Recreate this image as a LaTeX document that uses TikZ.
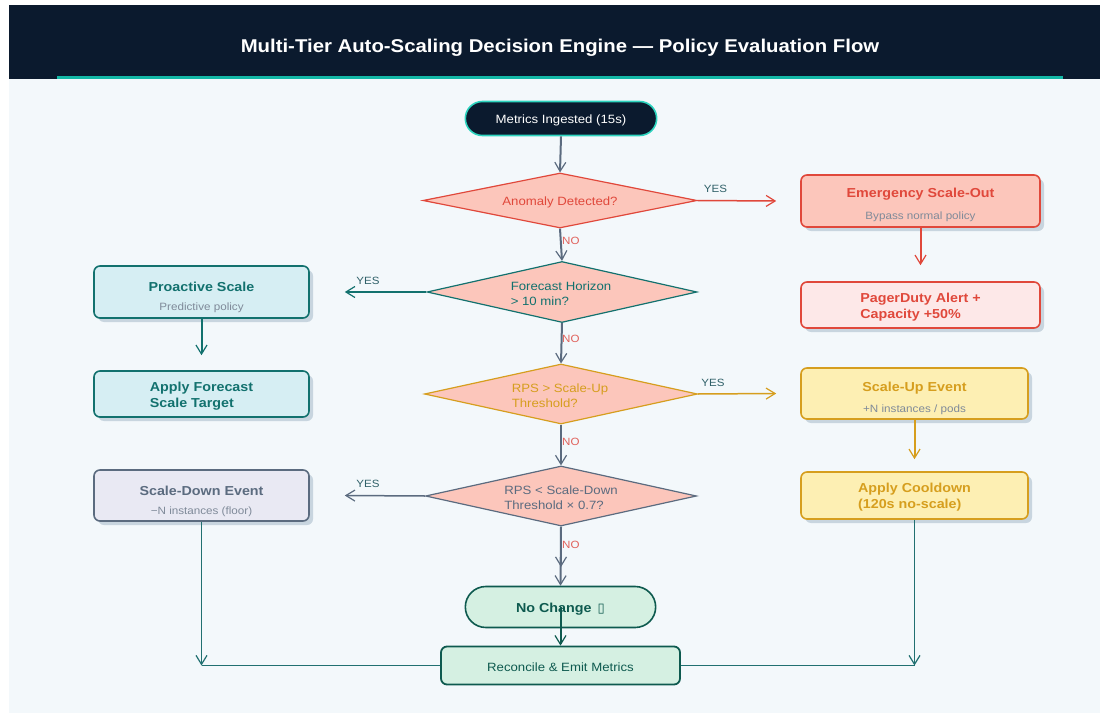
\documentclass[tikz,border=0pt]{standalone}
\usepackage{fontspec}
\setmainfont{Liberation Sans}[FakeStretch=1.1]
\newfontfamily\symfont{DejaVu Sans}
\usetikzlibrary{shapes.geometric,shapes.misc,arrows.meta,shadows}
\definecolor{navy}{HTML}{0B1A2E}
\definecolor{hdrteal}{HTML}{14B8A6}
\definecolor{startteal}{HTML}{2DD4BF}
\definecolor{bgc}{HTML}{F3F8FB}
\definecolor{slate}{HTML}{5B6B7F}
\definecolor{redc}{HTML}{E0483B}
\definecolor{redfill}{HTML}{FCC6BB}
\definecolor{pinkfill}{HTML}{FDE8E8}
\definecolor{tealc}{HTML}{12716E}
\definecolor{cyanfill}{HTML}{D6EEF3}
\definecolor{amber}{HTML}{D69E1E}
\definecolor{yelfill}{HTML}{FDEFB3}
\definecolor{lavfill}{HTML}{E9E9F3}
\definecolor{mintfill}{HTML}{D5F0E2}
\definecolor{darkgreen}{HTML}{0E5A4F}
\definecolor{subgray}{HTML}{7F8A99}
\definecolor{shadowc}{HTML}{C8D5DF}
\definecolor{yescol}{HTML}{2F6068}
\definecolor{nocol}{HTML}{E0605A}
\tikzset{
  box/.style={rounded corners=6pt, line width=1.6pt, draw,
    drop shadow={shadow xshift=4pt, shadow yshift=-4pt, fill=shadowc, opacity=1}},
  dec/.style={diamond, line width=1.2pt, draw, fill=redfill, inner sep=0pt},
  dectext/.style={font=\fontsize{12}{15}\selectfont, align=left, inner sep=0pt},
  ttl/.style={font=\fontsize{13}{16}\selectfont\bfseries, inner sep=0pt, align=left},
  sub/.style={font=\fontsize{10.6}{12}\selectfont, text=subgray, inner sep=0pt},
  arr/.style={-{Straight Barb[length=9pt,width=11pt,line width=1.2pt]}},
  lbl/.style={font=\fontsize{10.5}{12}\selectfont, inner sep=0pt},
}
\begin{document}
\begin{tikzpicture}[x=1pt,y=-1pt]
\useasboundingbox (0,0) rectangle (1100,714);
\fill[white] (0,0) rectangle (1100,714);
\fill[bgc] (9,79) rectangle (1100,713);
\fill[navy] (9,5) rectangle (1100,79);
\fill[hdrteal] (57,76) rectangle (1063,79);
\node[text=white, font=\fontsize{18.5}{22}\selectfont\bfseries] (title) at (560,48) {Multi-Tier Auto-Scaling Decision Engine — Policy Evaluation Flow};

% start
\node[rounded rectangle, draw=startteal, line width=1.6pt, fill=navy, text=white,
  minimum width=198pt, minimum height=34pt, font=\fontsize{12}{14}\selectfont] (start) at (561,118.5) {};
\node[text=white, font=\fontsize{12}{14}\selectfont, inner sep=0pt] (startt) at (561,120) {Metrics Ingested (15s)};

% diamonds
\node[dec, draw=redc, minimum width=274pt, minimum height=55pt] (d1) at (560,200.5) {};
\node[dectext, text=redc] (d1t) at (560,202.5) {Anomaly Detected?};
\node[dec, draw=tealc, minimum width=270pt, minimum height=61pt] (d2) at (562,292) {};
\node[dectext, text=tealc] (d2t) at (561,294) {Forecast Horizon\\> 10 min?};
\node[dec, draw=amber, minimum width=273pt, minimum height=60pt] (d3) at (561,394) {};
\node[dectext, text=amber] (d3t) at (560,396) {RPS > Scale-Up\\Threshold?};
\node[dec, draw=slate, minimum width=271pt, minimum height=60pt] (d4) at (561,496) {};
\node[dectext, text=slate] (d4t) at (561,498) {RPS < Scale-Down\\Threshold × 0.7?};

% right boxes
\node[box, draw=redc, fill=redfill, minimum width=239pt, minimum height=52pt] (emg) at (920.5,201) {};
\node[ttl, text=redc] (emgt) at (920.5,194.5) {Emergency Scale-Out};
\node[sub] (emgs) at (920.5,217) {Bypass normal policy};
\node[box, draw=redc, fill=pinkfill, minimum width=239pt, minimum height=46pt] (pd) at (920.5,305) {};
\node[ttl, text=redc] (pdt) at (920.5,307) {PagerDuty Alert +\\Capacity +50\%};

\node[box, draw=amber, fill=yelfill, minimum width=227pt, minimum height=51pt] (su) at (914.5,393.5) {};
\node[ttl, text=amber] (sut) at (914.5,388) {Scale-Up Event};
\node[sub] (sus) at (914.5,410) {+N instances / pods};
\node[box, draw=amber, fill=yelfill, minimum width=227pt, minimum height=47pt] (cd) at (914.5,495.5) {};
\node[ttl, text=amber] (cdt) at (914.5,497.5) {Apply Cooldown\\(120s no-scale)};

% left boxes
\node[box, draw=tealc, fill=cyanfill, minimum width=215pt, minimum height=52pt] (pro) at (201.5,292) {};
\node[ttl, text=tealc] (prot) at (201.5,287) {Proactive Scale};
\node[sub] (pros) at (201.5,308) {Predictive policy};
\node[box, draw=tealc, fill=cyanfill, minimum width=215pt, minimum height=46pt] (af) at (201.5,394) {};
\node[ttl, text=tealc] (aft) at (201.5,396) {Apply Forecast\\Scale Target};

\node[box, draw=slate, fill=lavfill, minimum width=215pt, minimum height=51pt] (sd) at (201.5,495.5) {};
\node[ttl, text=slate] (sdt) at (201.5,491) {Scale-Down Event};
\node[sub] (sds) at (201.5,512) {−N instances (floor)};

% bottom
\node[rounded rectangle, draw=darkgreen, fill=mintfill, line width=1.6pt,
  minimum width=197pt, minimum height=41pt] (nc) at (560.5,607) {};
\node[text=darkgreen, font=\fontsize{13}{15}\selectfont\bfseries, inner sep=0pt] (nct) at (560.5,609) {No Change \,{\symfont\mdseries ▯}};
\node[rounded corners=6pt, draw=darkgreen, fill=mintfill, line width=1.8pt, text=darkgreen,
  minimum width=239pt, minimum height=38pt, font=\fontsize{12}{14}\selectfont] (rec) at (560.5,665.5) {};
\node[text=darkgreen, font=\fontsize{12}{14}\selectfont, inner sep=0pt] (rect) at (560.5,667) {Reconcile \& Emit Metrics};

% main spine
\draw[arr, slate, line width=2pt] (start.south) -- (d1.north);
\draw[arr, slate, line width=2pt] (d1.south) -- (d2.north);
\draw[arr, slate, line width=2pt] (d2.south) -- (d3.north);
\draw[arr, slate, line width=2pt] (d3.south) -- (d4.north);
\coordinate (mid) at (561,567);
\draw[arr, slate, line width=2pt] (d4.south) -- (mid);
\draw[arr, slate, line width=2pt] (d4.south) -- (nc.north);
\node[lbl, text=nocol, anchor=west] (no1) at (562,241) {NO};
\node[lbl, text=nocol, anchor=west] (no2) at (562,339) {NO};
\node[lbl, text=nocol, anchor=west] (no3) at (562,442) {NO};
\node[lbl, text=nocol, anchor=west] (no4) at (562,544.5) {NO};

% YES branches
\draw[arr, redc, line width=1.5pt] (d1.east) -- ([xshift=-24pt]emg.west);
\node[lbl, text=yescol] (y1) at (715.5,188.5) {YES};
\draw[arr, tealc, line width=1.5pt] (d2.west) -- ([xshift=35pt]pro.east);
\node[lbl, text=yescol] (y2) at (368,280.5) {YES};
\draw[arr, amber, line width=1.5pt] (d3.east) -- ([xshift=-24pt]su.west);
\node[lbl, text=yescol] (y3) at (713,382.5) {YES};
\draw[arr, slate, line width=1.5pt] (d4.west) -- ([xshift=35pt]sd.east);
\node[lbl, text=yescol] (y4) at (368,483.5) {YES};

% vertical follow-ups
\draw[arr, redc, line width=2pt] (emg.south) -- ([yshift=16pt]pd.north);
\draw[arr, tealc, line width=2pt] (pro.south) -- ([yshift=15pt]af.north);
\draw[arr, amber, line width=2pt] (su.south) -- ([yshift=12pt]cd.north);
\draw[arr, darkgreen, line width=2pt] (nc.center) -- (rec.north);

% merges
\coordinate (lc) at (sd.south |- rec.west);
\coordinate (rc) at (cd.south |- rec.east);
\draw[arr, tealc!80!slate, line width=1pt] (sd.south) -- (lc);
\draw[tealc!80!slate, line width=1pt] (lc) -- (rec.west);
\draw[arr, tealc!80!slate, line width=1pt] (cd.south) -- (rc);
\draw[tealc!80!slate, line width=1pt] (rc) -- (rec.east);
\end{tikzpicture}
\end{document}
